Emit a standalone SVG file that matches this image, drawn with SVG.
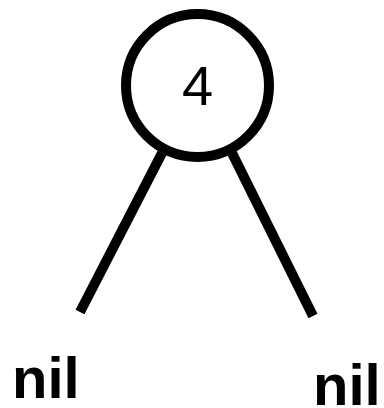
<svg xmlns="http://www.w3.org/2000/svg" width="384" height="408" viewBox="0 0 384 408">
  <style>
    .edge { stroke: #000; stroke-width: 10; fill: none; }
    .node { fill: #fff; stroke: #000; stroke-width: 10; }
    .val { font-family: "Liberation Sans", Arial, sans-serif; font-size: 56px; fill: #000; }
    .nil { font-family: "Liberation Sans", Arial, sans-serif; font-size: 58px; font-weight: bold; fill: #000; }
  </style>
  <rect width="384" height="408" fill="#fff"/>
  <g id="connectors">
    <line class="edge" x1="162" y1="153" x2="80" y2="312"/>
    <line class="edge" x1="232" y1="153" x2="313" y2="316"/>
  </g>
  <g id="node-4">
    <circle class="node" cx="197.5" cy="85.5" r="71.5"/>
    <text class="val" x="197.5" y="105" text-anchor="middle">4</text>
  </g>
  <g id="nil-left">
    <text class="nil" x="12" y="398">nil</text>
  </g>
  <g id="nil-right">
    <text class="nil" x="313" y="405">nil</text>
  </g>
</svg>
